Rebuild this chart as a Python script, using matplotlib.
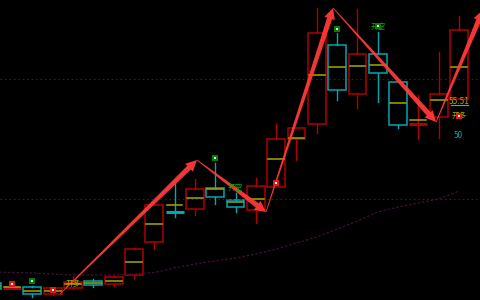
import matplotlib
matplotlib.use("Agg")
import matplotlib.pyplot as plt
import numpy as np
from matplotlib.patches import Polygon, Rectangle
from matplotlib.transforms import IdentityTransform

plt.rcParams['font.family'] = ['Noto Sans CJK SC', 'DejaVu Sans']

# candle data, index -1 is cut by the left edge
idx = list(range(-1, 23))
opens = [17, 12, 13, 6, 12, 19, 16, 25, 58, 88.5, 91, 112, 100, 90, 113, 161,
         176, 255, 206, 246, 218, 176, 183, 201]
closes = [11, 12.5, 6, 12, 18, 15, 23, 51, 95, 88, 111, 103, 93, 114, 161, 172,
          267, 210, 246, 227, 175, 176.5, 206, 270]
highs = [17, 12.5, 14, 12, 24, 21, 24, 52, 96, 117, 121, 137, 107, 122, 176, 172,
         292, 267, 291, 268, 218, 205, 248, 284]
lows = [11, 12, 3, 5, 11, 13, 14, 22, 51, 83, 85, 96, 88, 77, 113, 140,
        167, 200, 192, 198, 172, 161, 162, 201]
mids = [14, 13.3, 9, 9, 16, 17, 19, 38, 76, 95, 102, 111, 98, 101, 141, 162,
        225, 233, 234, 235, 197, 180, 200, 233]
ma = [28, 27.5, 27, 26, 25, 25, 25, 26, 27.5, 32, 36, 39, 42, 46, 51, 57,
      63, 71, 79, 88, 93, 97, 101, 109]

# zig-zag arrows (index, price)
pivot_x = [2.36, 9.10, 12.50, 15.80, 20.87, 23.18]
pivot_y = [6, 140, 88, 292, 178, 290]

buy_x = [0, 2, 13, 22]
buy_y = [16, 10, 117, 184]
sell_x = [1, 10, 16, 18]
sell_y = [19, 142, 271, 274]

level_lines = [221.3, 101]

RED = '#b00000'
CYAN = '#00a8b0'
YEL = '#a8a800'

fig = plt.figure(figsize=(4.8, 3), dpi=100)
fig.patch.set_facecolor('black')
ax = fig.add_axes([0, 0, 1, 1])
ax.set_facecolor('black')
ax.set_xlim(-0.59, 23.03)
ax.set_ylim(0, 300)
ax.axis('off')

for lv in level_lines:
    ax.axhline(lv, color='#6a0c0c', lw=0.8, ls=(0, (1.5, 2.5)))

ax.plot(idx, ma, color='#401036', lw=0.9, ls=(0, (2, 1.5)))

w = 0.88
for i, o, c, h, l, m in zip(idx, opens, closes, highs, lows, mids):
    col = RED if c >= o else CYAN
    top = max(o, c)
    bot = min(o, c)
    if h > top:
        ax.plot([i, i], [top, h], color=col, lw=1)
    if l < bot:
        ax.plot([i, i], [l, bot], color=col, lw=1)
    if top - bot < 1.5:
        ax.plot([i - w / 2, i + w / 2], [o, o], color=col, lw=2.2, solid_capstyle='butt')
    else:
        ax.add_patch(Rectangle((i - w / 2, bot), w, top - bot, fill=False,
                               edgecolor=col, lw=1.1))
    ax.plot([i - w / 2 + 0.05, i + w / 2 - 0.05], [m, m], color=YEL, lw=1.1)


def taper_arrow(p0, p1):
    a = ax.transData.transform(p0)
    b = ax.transData.transform(p1)
    d = b - a
    u = d / np.hypot(*d)
    n = np.array([-u[1], u[0]])
    neck = b - u * 11
    pts = [a + n * 0.4, neck + n * 2.6, neck + n * 5.5, b,
           neck - n * 5.5, neck - n * 2.6, a - n * 0.4]
    ax.add_patch(Polygon(pts, closed=True, transform=IdentityTransform(),
                         facecolor='#ff3a3a', edgecolor='none', alpha=0.95, zorder=5))


for k in range(len(pivot_x) - 1):
    taper_arrow((pivot_x[k], pivot_y[k]), (pivot_x[k + 1], pivot_y[k + 1]))

ax.scatter(buy_x, buy_y, marker='s', s=22, color='#e01818', zorder=7, lw=0)
ax.scatter(buy_x, buy_y, marker='s', s=4, color='white', zorder=8, lw=0)
ax.scatter(sell_x, sell_y, marker='s', s=22, color='#0a7a0a', zorder=7, lw=0)
ax.scatter(sell_x, sell_y, marker='s', s=4, color='#c8ffc8', zorder=8, lw=0)

ax.text(3, 16, '开多', color=YEL, fontsize=5.5, ha='center', va='center', zorder=6)
ax.text(11, 112, '开空', color='#00b000', fontsize=5.5, ha='center', va='center', zorder=6)
ax.text(18, 273, '开空', color='#00b000', fontsize=5.5, ha='center', va='center', zorder=6)
ax.text(22, 184, '开多', color=YEL, fontsize=5.5, ha='center', va='center', zorder=6)
ax.text(22, 198, '55.51', color=YEL, fontsize=6, ha='center', va='center', zorder=6)
ax.plot([21.6, 22.45], [195, 195], color='#909090', lw=0.8, zorder=6)
ax.text(21.95, 165, '50', color='#00a8b0', fontsize=6, ha='center', va='center', zorder=6)

fig.savefig('out.png', dpi=100, facecolor='black')
